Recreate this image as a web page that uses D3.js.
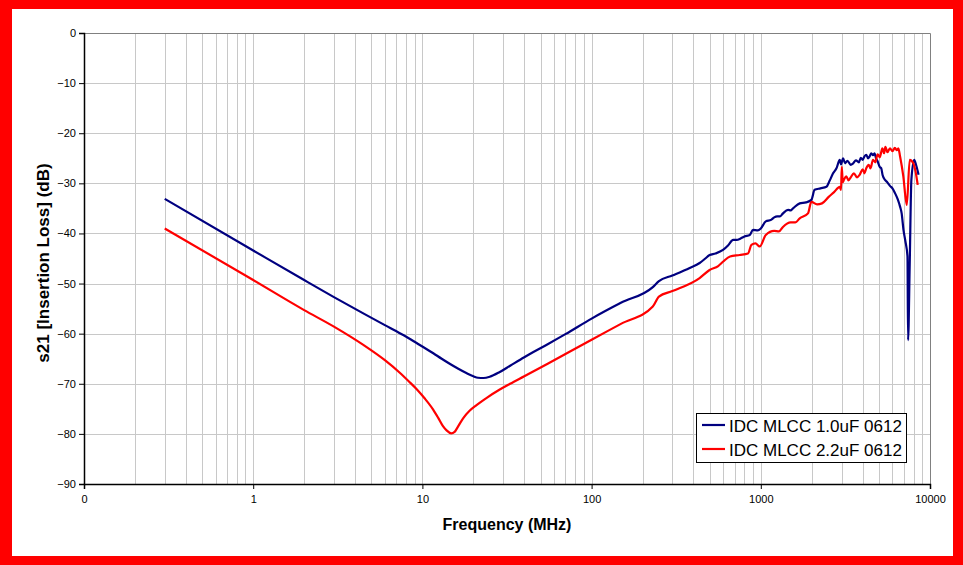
<!DOCTYPE html>
<html>
<head>
<meta charset="utf-8">
<script src="https://cdn.jsdelivr.net/npm/d3@7"></script>
<style>
  body { margin: 0; background: #fff; }
  svg { display: block; font-family: "Liberation Sans", Arial, sans-serif; }
</style>
</head>
<body>
<div id="chart"></div>
<script>
// values (MHz, dB)
const blueFreq = [0.3, 1, 2, 3, 4.5, 6, 7.35, 8.5, 9.6, 11.6, 13, 14.5, 16.3, 18.3, 20, 21.3, 23, 25, 28.5, 33, 40, 45, 55, 70, 100, 150, 230, 250, 300, 380, 435, 470, 498, 540, 598, 640, 686, 720, 760, 800, 860, 900, 960, 1000, 1070, 1150, 1200, 1250, 1300, 1352, 1450, 1500, 1550, 1698, 1850, 1990, 2080, 2250, 2443, 2550, 2674, 2800, 2930, 2980, 3063, 3150, 3250, 3400, 3515, 3650, 3800, 3900, 4000, 4100, 4207, 4300, 4400, 4500, 4604, 4700, 4800, 4900, 5040, 5150, 5250, 5420, 5600, 5800, 6000, 6220, 6450, 6660, 6800, 6970, 7150, 7360, 7420, 7590, 7760, 8070, 8300, 8560];
const blueDb = [-33.1, -43.4, -49.3, -52.7, -56.0, -58.3, -59.9, -61.1, -62.2, -63.9, -65.0, -66.0, -67.0, -67.9, -68.5, -68.8, -68.85, -68.6, -67.7, -66.4, -64.7, -63.7, -62.1, -60.1, -57.0, -53.8, -50.7, -49.5, -48.4, -46.9, -45.9, -45.0, -44.3, -44.0, -43.3, -42.4, -41.3, -41.3, -41.0, -40.6, -40.3, -39.3, -39.4, -39.0, -37.6, -37.3, -36.8, -36.6, -36.6, -36.0, -35.3, -35.4, -35.0, -34.0, -33.8, -33.3, -31.3, -31.0, -30.7, -29.5, -28.0, -27.0, -25.3, -26.2, -25.0, -26.0, -25.5, -26.3, -26.0, -25.4, -25.8, -24.9, -25.3, -24.6, -24.3, -25.0, -24.6, -24.0, -24.4, -24.0, -25.0, -25.6, -26.7, -27.0, -28.4, -29.3, -29.8, -30.5, -31.0, -32.0, -33.2, -34.7, -36.0, -39.3, -41.5, -44.6, -61.3, -45.9, -29.3, -25.3, -26.5, -28.3];

const redFreq = [0.3, 1, 2, 3, 4.5, 6, 7.35, 8.3, 9.2, 10.3, 11.6, 12.4, 13.2, 13.9, 14.8, 15.5, 16.2, 17.4, 19, 20.8, 24, 28.5, 33, 40, 55, 100, 150, 230, 250, 300, 435, 498, 560, 600, 658, 750, 840, 880, 930, 985, 1070, 1200, 1280, 1352, 1500, 1600, 1698, 1900, 1990, 2150, 2300, 2520, 2700, 2930, 2980, 3010, 3050, 3100, 3200, 3300, 3400, 3550, 3700, 3840, 4000, 4100, 4200, 4350, 4450, 4604, 4750, 4900, 5050, 5230, 5350, 5450, 5600, 5800, 6000, 6200, 6370, 6500, 6660, 6950, 7290, 7590, 7970, 8200, 8460];
const redDb = [-39.0, -49.3, -55.3, -58.6, -62.3, -65.3, -67.8, -69.5, -71.0, -72.9, -75.2, -76.8, -78.4, -79.3, -79.9, -79.6, -78.6, -76.9, -75.4, -74.3, -72.8, -71.2, -70.0, -68.5, -66.0, -61.2, -58.0, -54.6, -52.6, -51.5, -48.9, -47.3, -46.5, -45.6, -44.6, -44.3, -44.0, -42.3, -42.0, -42.6, -40.3, -39.5, -39.6, -38.7, -37.8, -37.8, -37.0, -36.0, -33.7, -34.2, -34.0, -32.7, -31.8, -30.7, -31.3, -26.7, -29.8, -29.3, -28.6, -29.4, -28.8, -28.0, -28.8, -28.3, -27.2, -28.0, -27.0, -26.3, -27.0, -25.3, -25.8, -24.2, -24.8, -23.0, -24.0, -22.7, -23.8, -23.0, -23.6, -22.9, -23.4, -23.0, -24.7, -28.5, -34.3, -25.3, -26.0, -27.5, -30.3];

const seriesNames = ["IDC MLCC 1.0uF 0612", "IDC MLCC 2.2uF 0612"];
const seriesColors = ["#000080", "#ff0000"];
const xTicks = [0.1, 1, 10, 100, 1000, 10000];
const yTicks = [0, -10, -20, -30, -40, -50, -60, -70, -80, -90];

const W = 963, H = 565;
let margin = { top: 33, right: 33, bottom: 81, left: 84 },
  width = W - margin.left - margin.right,
  height = H - margin.top - margin.bottom;

let root = d3.select("#chart")
  .append("svg")
  .attr("width", W)
  .attr("height", H);

// red frame round the whole picture
root.append("rect").attr("x", 0).attr("y", 0).attr("width", W).attr("height", H).attr("fill", "#ff0000");
root.append("rect").attr("x", 12).attr("y", 9).attr("width", 941).attr("height", 547).attr("fill", "#fff");

let svg = root.append("g")
  .attr("transform", "translate(" + margin.left + "," + margin.top + ")");

let x = d3.scaleLog().domain([0.1, 10000]).range([0, width]);
let y = d3.scaleLinear().domain([-90, 0]).range([height, 0]);

// grid lines
let minor = [];
[0.1, 1, 10, 100, 1000].forEach(d => {
  for (let k = 1; k <= 9; k++) minor.push(d * k);
});
svg.append("g")
  .selectAll("line")
  .data(minor.filter(d => d > 0.1))
  .enter()
  .append("line")
  .attr("x1", d => Math.round(x(d)) + 0.5)
  .attr("x2", d => Math.round(x(d)) + 0.5)
  .attr("y1", 0)
  .attr("y2", height)
  .attr("stroke", "#c8c8c8")
  .attr("stroke-width", 1);

svg.append("g")
  .selectAll("line")
  .data(yTicks.filter(d => d > -90 && d < 0))
  .enter()
  .append("line")
  .attr("x1", 0)
  .attr("x2", width)
  .attr("y1", d => Math.round(y(d)) + 0.5)
  .attr("y2", d => Math.round(y(d)) + 0.5)
  .attr("stroke", "#c8c8c8")
  .attr("stroke-width", 1);

// top and right border of the plot area
svg.append("path")
  .attr("d", "M0,0.5H" + (width + 0.5) + "V" + height)
  .attr("fill", "none")
  .attr("stroke", "#808080")
  .attr("stroke-width", 1);

// axes
let xAxisCall = d3.axisBottom(x)
  .tickValues(xTicks)
  .tickSize(5)
  .tickPadding(6)
  .tickFormat(d => d < 1 ? "0" : d3.format("d")(d));
let gx = svg.append("g")
  .attr("class", "x-axis")
  .attr("transform", "translate(0," + height + ")")
  .call(xAxisCall);

let yAxisCall = d3.axisLeft(y)
  .tickValues(yTicks)
  .tickSize(5)
  .tickPadding(3)
  .tickFormat(d3.format("d"));
let gy = svg.append("g")
  .attr("class", "y-axis")
  .call(yAxisCall);

[gx, gy].forEach(g => {
  g.select(".domain").attr("stroke", "#000").attr("stroke-width", 1.5);
  g.selectAll(".tick line").attr("stroke", "#000");
  g.selectAll("text")
    .attr("fill", "#000")
    .style("font-size", "11px")
    .style("font-family", "'Liberation Sans', Arial, sans-serif");
});

// curves
const series = [
  blueFreq.map((f, i) => ({ f: f, v: blueDb[i] })),
  redFreq.map((f, i) => ({ f: f, v: redDb[i] }))
];

let line = d3.line()
  .curve(d3.curveMonotoneX)
  .x(d => x(d.f))
  .y(d => y(d.v));

series.forEach((s, i) => {
  svg.append("path")
    .datum(s)
    .attr("fill", "none")
    .attr("stroke", seriesColors[i])
    .attr("stroke-width", 2.2)
    .attr("stroke-linejoin", "round")
    .attr("d", line);
});

// axis titles
svg.append("text")
  .attr("x", width / 2)
  .attr("y", height + 46)
  .style("text-anchor", "middle")
  .style("font-size", "16px")
  .style("font-weight", "bold")
  .text("Frequency (MHz)");

root.append("text")
  .attr("transform", "translate(43,263) rotate(-90)")
  .attr("dy", "0.35em")
  .style("text-anchor", "middle")
  .style("font-size", "17px")
  .style("font-weight", "bold")
  .text("s21 [Insertion Loss] (dB)");

// legend
let legend = root.append("g").attr("transform", "translate(696,413)");
legend.append("rect")
  .attr("x", 0.5).attr("y", 0.5)
  .attr("width", 210).attr("height", 49)
  .attr("fill", "#fff")
  .attr("stroke", "#000")
  .attr("stroke-width", 1);

seriesNames.forEach((name, i) => {
  let row = legend.append("g").attr("transform", "translate(0," + (12 + i * 24) + ")");
  row.append("line")
    .attr("x1", 6).attr("x2", 29)
    .attr("y1", 0).attr("y2", 0)
    .attr("stroke", seriesColors[i])
    .attr("stroke-width", 2.2);
  row.append("text")
    .attr("x", 33)
    .attr("y", 6.5)
    .style("font-size", "17px")
    .text(name);
});
</script>
</body>
</html>
